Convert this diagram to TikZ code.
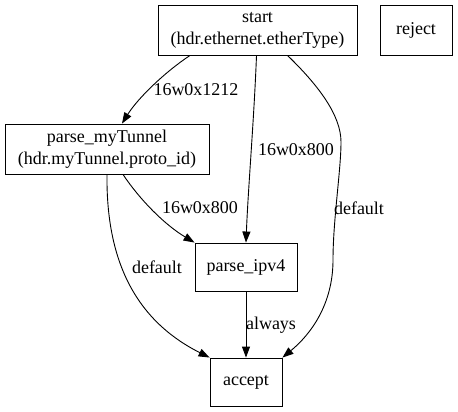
\documentclass[tikz,border=0pt]{standalone}
\usepackage{fontspec}
\setmainfont{Liberation Serif}
\usepackage{tikz}
\usetikzlibrary{arrows.meta,positioning,calc}
\tikzset{
  px/.style={x=1pt, y=-1pt, font=\fontsize{18}{22}\selectfont, line width=0.9pt},
  p box/.style={draw, rectangle, align=center, inner sep=0pt, minimum height=50pt},
  p lbl/.style={inner sep=0pt, anchor=center},
  p arr/.style={-{Triangle[length=11pt, width=8pt]}},
}
\begin{document}
\begin{tikzpicture}[px]
\useasboundingbox (0,0) rectangle (458,412);
% ---- states ----
\node[p box, minimum width=199pt] (start) at (257.5,30) {start\\(hdr.ethernet.etherType)};
\node[p box, minimum width=72pt] (reject) at (416,30) {reject};
\node[p box, minimum width=204pt] (tun) at (107,149) {parse\_myTunnel\\(hdr.myTunnel.proto\_id)};
\node[p box, minimum width=102pt, minimum height=48pt] (ipv4) at (246,267) {parse\_ipv4};
\node[p box, minimum width=72pt, minimum height=48pt] (accept) at (246,382) {accept};
% ---- transitions ----
\draw[p arr] ([xshift=-67.5pt]start.south) .. controls (165,72) and (138,98) .. ([xshift=15pt]tun.north);
\draw[p arr] ([xshift=-1pt]start.south) .. controls (254,120) and (248,190) .. (ipv4.north);
\draw[p arr] ([xshift=30pt]start.south) .. controls (318,85) and (341,115) .. (341,142)
  .. controls (341,170) and (333,220) .. (333,260)
  .. controls (333,305) and (310,335) .. (accept.north east);
\draw[p arr] ([xshift=16pt]tun.south) .. controls (140,200) and (165,225) .. (ipv4.north west);
\draw[p arr] (tun.south) .. controls (106,260) and (135,320) .. (accept.north west);
\draw[p arr] (ipv4) -- (accept);
% ---- labels ----
\node[p lbl] (l1) at (196,90) {16w0x1212};
\node[p lbl] (l2) at (296,150) {16w0x800};
\node[p lbl] (l3) at (359,208) {default};
\node[p lbl] (l4) at (200,208) {16w0x800};
\node[p lbl] (l5) at (157,267) {default};
\node[p lbl] (l6) at (271,325) {always};
\end{tikzpicture}
\end{document}
